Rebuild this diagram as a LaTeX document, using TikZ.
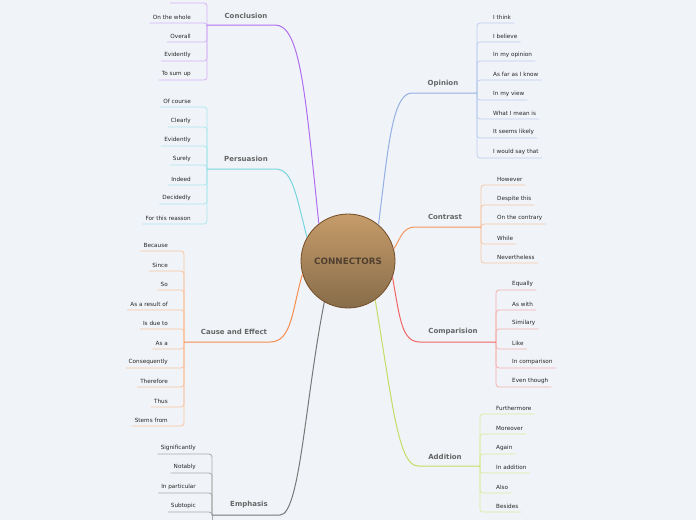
\documentclass[tikz,border=0pt]{standalone}
\usepackage{fontspec}
\setmainfont{DejaVu Sans}
\begin{document}
\begin{tikzpicture}[x=1pt,y=-1pt,
  leaf/.style={font=\fontsize{5.7}{6}\selectfont, text=black!85, inner sep=0pt},
  branchlbl/.style={font=\fontsize{7}{8}\selectfont\bfseries, text=black!60, inner sep=0pt},
  hub/.style={circle, draw=brown!60!black, line width=0.8pt, minimum size=94pt, inner sep=0pt,
    top color={rgb,255:red,198;green,156;blue,106}, bottom color={rgb,255:red,135;green,108;blue,74},
    font=\fontsize{8.8}{9}\selectfont\bfseries, text={rgb,255:red,80;green,64;blue,48}}]
\fill[fill={rgb,255:red,240;green,243;blue,248}] (0,0) rectangle (696,520);
\useasboundingbox (0,0) rectangle (696,520);
\definecolor{cPur}{RGB}{176,110,240}\definecolor{cPurL}{RGB}{214,180,246}
\definecolor{cCya}{RGB}{120,214,222}\definecolor{cCyaL}{RGB}{170,232,238}
\definecolor{cOra}{RGB}{246,140,80}\definecolor{cOraL}{RGB}{250,196,160}
\definecolor{cGra}{RGB}{120,120,120}\definecolor{cGraL}{RGB}{170,170,170}
\definecolor{cBlu}{RGB}{150,176,228}\definecolor{cBluL}{RGB}{190,208,240}
\definecolor{cCon}{RGB}{244,150,96}\definecolor{cConL}{RGB}{248,198,166}
\definecolor{cRed}{RGB}{240,100,100}\definecolor{cRedL}{RGB}{246,176,176}
\definecolor{cGrn}{RGB}{196,222,100}\definecolor{cGrnL}{RGB}{220,236,160}

\node[hub] (c) at (348,261) {CONNECTORS};

\newcommand{\lbranch}[6]{%
  \foreach \yy/\tt [count=\i] in {#6} {
    \node[leaf, anchor=east] (#1\i) at (#2-16,\yy) {\tt};
    \draw[#5, line width=0.8pt, rounded corners=3pt] (#2,#3) -- (#2,\yy+6) -- ([xshift=-3pt]#1\i.west |- 0,\yy+6);
  }}
\newcommand{\rbranch}[6]{%
  \foreach \yy/\tt [count=\i] in {#6} {
    \node[leaf, anchor=west] (#1\i) at (#2+16,\yy) {\tt};
    \draw[#5, line width=0.8pt, rounded corners=3pt] (#2,#3) -- (#2,\yy+6) -- ([xshift=3pt]#1\i.east |- 0,\yy+6);
  }}

% Conclusion
\draw[cPurL, line width=0.8pt, rounded corners=3pt] (207,25) -- (207,3) -- (170,3);
\lbranch{co}{207}{25}{cPur}{cPurL}{17/On the whole,36/Overall,55/Evidently,74/To sum up}
\node[branchlbl] (conc) at (246,16) {Conclusion};
\draw[cPur, line width=1pt] (c.128) .. controls (305,90) and (300,25) .. (275,25) -- (207,25);

% Persuasion
\lbranch{pe}{207}{169}{cCya}{cCyaL}{101/Of course,121/Clearly,140/Evidently,159/Surely,179/Indeed,198/Decidedly,218/For this reasson}
\node[branchlbl] (pers) at (246,159) {Persuasion};
\draw[cCya, line width=1pt] (c.150) .. controls (295,190) and (292,169) .. (275,169) -- (207,169);

% Cause and Effect
\lbranch{ca}{184}{342}{cOra}{cOraL}{245/Because,265/Since,284/So,304/As a result of,323/Is due to,343/As a,362/Consequently,381/Therefore,401/Thus,420/Stems from}
\node[branchlbl] (cause) at (234,332) {Cause and Effect};
\draw[cOra, line width=1pt] (c.196) .. controls (292,310) and (292,342) .. (270,342) -- (184,342);

% Emphasis
\draw[cGraL, line width=0.8pt] (212,515) -- (212,520);
\lbranch{em}{212}{515}{cGra}{cGraL}{448/Significantly,467/Notably,487/In particular,506/Subtopic}
\node[branchlbl] (emph) at (249,505) {Emphasis};
\draw[cGra, line width=1pt] (c.240) .. controls (305,400) and (300,515) .. (280,515) -- (212,515);

% Opinion
\rbranch{op}{477}{93}{cBlu}{cBluL}{17/I think,36/I believe,55/In my opinion,74/As far as I know,94/In my view,113/What I mean is,132/It seems likely,152/I would say that}
\node[branchlbl] (opin) at (443,84) {Opinion};
\draw[cBlu, line width=1pt] (c.50) .. controls (388,150) and (392,93) .. (412,93) -- (477,93);

% Contrast
\rbranch{ct}{481}{227}{cCon}{cConL}{179/However,199/Despite this,218/On the contrary,238/While,257/Nevertheless}
\node[branchlbl] (contr) at (445,217) {Contrast};
\draw[cCon, line width=1pt] (c.15) .. controls (400,240) and (402,227) .. (415,227) -- (481,227);

% Comparision
\rbranch{cp}{496}{342}{cRed}{cRedL}{284/Equally,304/As with,323/Similary,343/Like,362/In comparison,381/Even though}
\node[branchlbl] (comp) at (453,332) {Comparision};
\draw[cRed, line width=1pt] (c.340) .. controls (400,320) and (402,342) .. (420,342) -- (496,342);

% Addition
\rbranch{ad}{480}{466}{cGrn}{cGrnL}{408/Furthermore,428/Moreover,448/Again,467/In addition,487/Also,506/Besides}
\node[branchlbl] (addi) at (445,457) {Addition};
\draw[cGrn, line width=1pt] (c.305) .. controls (392,400) and (398,466) .. (418,466) -- (480,466);
\end{tikzpicture}
\end{document}
